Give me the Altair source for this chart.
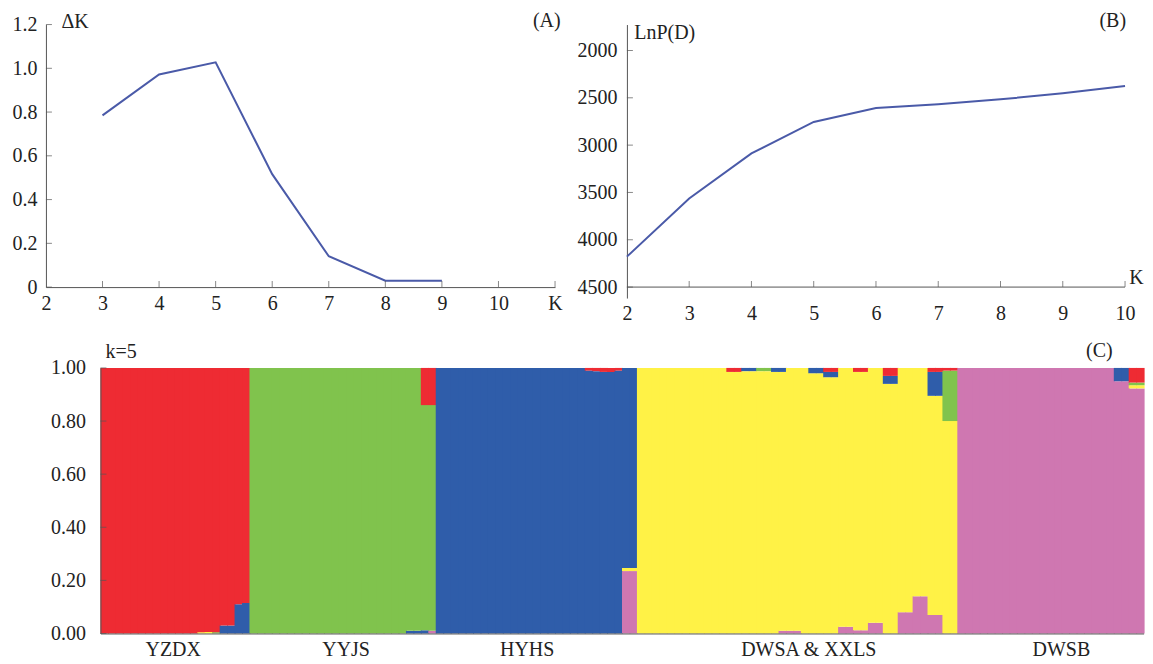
import altair as alt
import pandas as pd

FONT = "Liberation Serif"
LINE = "#4A5AA8"
AXIS = "#555555"
INK = "#222222"

# ---------------- (A) Delta K ----------------
k_a = [3, 4, 5, 6, 7, 8, 9]
delta_k = [0.785, 0.972, 1.027, 0.516, 0.141, 0.029, 0.029]
a_xticks = [2, 3, 4, 5, 6, 7, 8, 9, 10, 11]
a_yticks = [0, 0.2, 0.4, 0.6, 0.8, 1.0, 1.2]

# ---------------- (B) LnP(D) ----------------
k_b = [2, 3, 4, 5, 6, 7, 8, 9, 10]
lnp_d = [4178, 3563, 3088, 2755, 2608, 2569, 2516, 2453, 2376]
b_xticks = [2, 3, 4, 5, 6, 7, 8, 9, 10]
b_yticks = [2000, 2500, 3000, 3500, 4000, 4500]
b_ydomain = [1726, 4616]
b_baseline = 4500

# ---------------- (C) STRUCTURE k=5 ----------------
groups = ["YZDX", "YYJS", "HYHS", "DWSA & XXLS", "DWSB"]
group_sizes = [20, 25, 27, 43, 25]
group_main = ["red", "green", "blue", "yellow", "pink"]
group_label_at = [9.7, 32.9, 57.2, 95.0, 128.9]
clusters = ["red", "green", "blue", "yellow", "pink"]
cluster_colors = ["#EE2B33", "#80C34D", "#2F5DAA", "#FFF246", "#CF77B1"]
stack_order = ["pink", "yellow", "blue", "green", "red"]  # bottom -> top
c_yticks = [0, 0.2, 0.4, 0.6, 0.8, 1.0]

# admixed individuals: index, cluster, membership
admix_ind = [13, 14, 15, 16, 17, 18, 19,
             41, 42, 43, 44, 43, 44,
             65, 66, 67, 68, 69, 70, 70, 71, 71,
             84, 85, 86, 87, 88, 89, 90, 91, 91, 92, 93,
             95, 96, 97, 98, 97, 98, 99, 100, 101, 102, 101, 102,
             103, 104, 105, 106, 105, 106, 107, 108, 109, 110,
             111, 112, 111, 112, 111, 112, 113, 114, 113, 114,
             136, 137, 138, 139, 138, 139, 138, 139]
admix_cluster = ["yellow", "yellow", "green", "blue", "blue", "blue", "blue",
                 "blue", "blue", "red", "red", "blue", "pink",
                 "red", "red", "red", "red", "red", "pink", "yellow", "pink", "yellow",
                 "red", "red", "blue", "blue", "green", "green", "blue", "blue", "pink", "pink", "pink",
                 "blue", "blue", "blue", "blue", "red", "red", "pink", "pink", "red", "red", "pink", "pink",
                 "pink", "pink", "red", "red", "blue", "blue", "pink", "pink", "pink", "pink",
                 "pink", "pink", "red", "red", "blue", "blue", "green", "green", "red", "red",
                 "blue", "blue", "red", "red", "green", "green", "yellow", "yellow"]
admix_q = [0.005, 0.006, 0.005, 0.03, 0.03, 0.11, 0.115,
           0.01, 0.01, 0.14, 0.14, 0.012, 0.01,
           0.01, 0.012, 0.015, 0.015, 0.01, 0.235, 0.012, 0.235, 0.012,
           0.015, 0.015, 0.012, 0.012, 0.012, 0.012, 0.015, 0.015, 0.01, 0.01, 0.01,
           0.02, 0.02, 0.02, 0.02, 0.015, 0.015, 0.025, 0.025, 0.015, 0.015, 0.012, 0.012,
           0.04, 0.04, 0.03, 0.03, 0.03, 0.03, 0.08, 0.08, 0.14, 0.14,
           0.07, 0.07, 0.015, 0.015, 0.09, 0.09, 0.19, 0.19, 0.01, 0.01,
           0.05, 0.05, 0.055, 0.055, 0.01, 0.01, 0.012, 0.012]


def note(text, x, y, align):
    return alt.Chart(pd.DataFrame({"t": [text]})).mark_text(
        align=align, baseline="middle", font=FONT, fontSize=20, color=INK
    ).encode(text="t:N", x=alt.value(x), y=alt.value(y))


# ---------- panel A ----------
A_W, A_H = 510, 263
xa_scale = alt.Scale(domain=[2, 11], nice=False, zero=False)
ya_scale = alt.Scale(domain=[0, 1.2], nice=False)
xa_axis = alt.Axis(values=a_xticks, format="d",
                   labelExpr="datum.value == 11 ? 'K' : datum.label", labelPadding=6)
ya_axis = alt.Axis(values=a_yticks, labelExpr="datum.value == 0 ? '0' : format(datum.value, '.1f')",
                   labelPadding=9, minExtent=37.4)
dfa = pd.DataFrame({"K": k_a, "dK": delta_k})
line_a = alt.Chart(dfa).mark_line(color=LINE, strokeWidth=2).encode(
    x=alt.X("K:Q", scale=xa_scale, title=None, axis=xa_axis),
    y=alt.Y("dK:Q", scale=ya_scale, title=None, axis=ya_axis),
)
tick_ax = alt.Chart(pd.DataFrame({"K": a_xticks[1:]})).mark_tick(
    orient="vertical", size=6, thickness=1, color=AXIS, yOffset=-3
).encode(x=alt.X("K:Q", scale=xa_scale, title=None, axis=xa_axis), y=alt.datum(0))
tick_ay = alt.Chart(pd.DataFrame({"dK": a_yticks})).mark_tick(
    orient="horizontal", size=6, thickness=1, color=AXIS, xOffset=3
).encode(y=alt.Y("dK:Q", scale=ya_scale, title=None, axis=ya_axis), x=alt.datum(2))
chart_a = alt.layer(line_a, tick_ax, tick_ay,
                    note("ΔK", 15.6, -3, "left"), note("(A)", 515.6, -4, "right")
                    ).properties(width=A_W, height=A_H)

# ---------- panel B ----------
B_W, B_H = 499, 274
xb_scale = alt.Scale(domain=[2, 10], nice=False, zero=False)
yb_scale = alt.Scale(domain=b_ydomain, reverse=True, nice=False, zero=False)
xb_axis = alt.Axis(values=b_xticks, format="d", domain=False, labelPadding=5)
yb_axis = alt.Axis(values=b_yticks, format="d", labelPadding=10, minExtent=50)
dfb = pd.DataFrame({"K": k_b, "L": lnp_d})
line_b = alt.Chart(dfb).mark_line(color=LINE, strokeWidth=2).encode(
    x=alt.X("K:Q", scale=xb_scale, title=None, axis=xb_axis),
    y=alt.Y("L:Q", scale=yb_scale, title=None, axis=yb_axis),
)
base_b = alt.Chart(pd.DataFrame({"L": [b_baseline]})).mark_rule(color=AXIS, strokeWidth=1).encode(
    y=alt.Y("L:Q", scale=yb_scale, title=None, axis=yb_axis), x=alt.datum(2), x2=alt.datum(10))
tick_bx = alt.Chart(pd.DataFrame({"K": b_xticks[1:]})).mark_tick(
    orient="vertical", size=6, thickness=1, color=AXIS, yOffset=-3
).encode(x=alt.X("K:Q", scale=xb_scale, title=None, axis=xb_axis), y=alt.datum(b_baseline))
tick_by = alt.Chart(pd.DataFrame({"L": b_yticks})).mark_tick(
    orient="horizontal", size=6, thickness=1, color=AXIS, xOffset=3
).encode(y=alt.Y("L:Q", scale=yb_scale, title=None, axis=yb_axis), x=alt.datum(2))
k_b_label = alt.Chart(pd.DataFrame({"t": ["K"]})).mark_text(
    font=FONT, fontSize=20, color=INK, dx=11.5, dy=-9, baseline="middle"
).encode(text="t:N", x=alt.datum(10), y=alt.datum(b_baseline))
chart_b = alt.layer(line_b, base_b, tick_bx, tick_by, k_b_label,
                    note("LnP(D)", 7.4, 8, "left"), note("(B)", 500, -4, "right")
                    ).properties(width=B_W, height=B_H)

# ---------- panel C ----------
C_W, C_H = 1045, 266
rows = []
ind = 0
for g, size, main in zip(groups, group_sizes, group_main):
    for _ in range(size):
        q = {c: 0.0 for c in clusters}
        for i, c, v in zip(admix_ind, admix_cluster, admix_q):
            if i == ind:
                q[c] += v
        q[main] = 1 - sum(q.values())
        for c in stack_order:
            if q[c] > 0:
                rows.append({"ind": ind, "group": g, "cluster": c, "q": q[c],
                             "order": stack_order.index(c)})
        ind += 1
dfc = pd.DataFrame(rows)
xc_scale = alt.Scale(domain=[0, sum(group_sizes)], nice=False, zero=False)
yc_scale = alt.Scale(domain=[0, 1], nice=False)
label_expr = " : ".join(f"datum.value == {p} ? '{g}'" for p, g in zip(group_label_at, groups)) + " : ''"
xc_axis = alt.Axis(values=group_label_at, labelExpr=label_expr, labelPadding=6, zindex=1)
yc_axis = alt.Axis(values=c_yticks, format=".2f", labelPadding=15, zindex=1)
color_scale = alt.Scale(domain=clusters, range=cluster_colors)
bars = alt.Chart(dfc).transform_stack(
    stack="q", groupby=["ind"], sort=[alt.SortField("order", order="ascending")], as_=["y0", "y1"]
).transform_calculate(x1="datum.ind + 1").mark_bar(x2Offset=1).encode(
    x=alt.X("ind:Q", scale=xc_scale, title=None, axis=xc_axis),
    x2="x1:Q",
    y=alt.Y("y0:Q", scale=yc_scale, title=None, axis=yc_axis),
    y2="y1:Q",
    color=alt.Color("cluster:N", scale=color_scale, legend=None),
)
tick_cy = alt.Chart(pd.DataFrame({"y0": c_yticks})).mark_tick(
    orient="horizontal", size=6, thickness=1, color=AXIS, xOffset=3
).encode(y=alt.Y("y0:Q", scale=yc_scale, title=None, axis=yc_axis), x=alt.datum(0))
chart_c = alt.layer(bars, tick_cy, note("k=5", 5, -16, "left"), note("(C)", 1014, -17, "right")
                    ).properties(width=C_W, height=C_H)

# invisible spacer that shifts panel C to the right of panel A's axis
spacer = alt.Chart(pd.DataFrame({"s": [0]})).mark_point(opacity=0).encode(
    x=alt.X("s:Q", axis=None), y=alt.Y("s:Q", axis=None)
).properties(width=1, height=1)

row1 = alt.hconcat(chart_a, chart_b, spacing=72, bounds="flush")
row2 = alt.hconcat(spacer, chart_c, spacing=53.6, bounds="flush")
chart = alt.concat(row1, row2, columns=1, spacing=18, align="none").properties(
    padding={"left": 0, "top": 2, "right": 0, "bottom": 0}
).configure_axis(
    grid=False, ticks=False, tickSize=0, labelFont=FONT, labelFontSize=20, labelColor=INK,
    domainColor=AXIS, domainWidth=1, labelFlush=False
).configure_view(strokeWidth=0)

chart.save("out.html", embed_options={"renderer": "svg", "actions": False})
